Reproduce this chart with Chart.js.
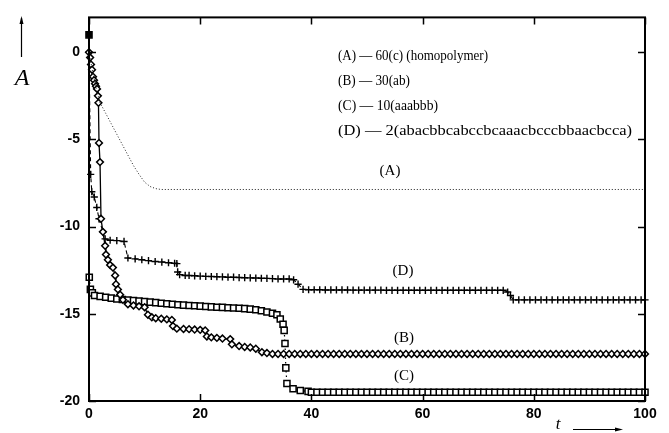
<!DOCTYPE html>
<html>
<head>
<meta charset="utf-8">
<script src="https://cdn.jsdelivr.net/npm/chart.js@4.4.1/dist/chart.umd.min.js"></script>
<style>
  html, body { margin: 0; padding: 0; background: #fff; }
</style>
</head>
<body>
<canvas id="chartContainer" width="669" height="433"></canvas>
<script>
// axis ticks
var xTicks = [0, 20, 40, 60, 80, 100];
var yTicks = [-20, -15, -10, -5, 0];

// (A) homopolymer, dotted line, no markers
var tA = [0, 0.7, 1.4, 2, 3, 4, 5, 6, 7, 8, 9, 10, 11, 12, 13, 100];
var yA = [0, -1.2, -2.2, -2.9, -3.5, -4.1, -4.7, -5.3, -5.9, -6.5, -7.0, -7.45, -7.7, -7.82, -7.87, -7.87];

// (B) 30(ab), diamonds
var tB = [0, 0.2, 0.36, 0.54, 0.72, 0.9, 1.08, 1.26, 1.44, 1.6, 1.7, 1.8, 1.98, 2.16, 2.5, 2.9, 3.05, 3.4, 3.8, 4.3,
  4.7, 4.85, 5.2, 5.6, 6.1, 7, 8, 9, 10, 10.6, 11.3, 12, 13, 14, 14.9, 15.1, 15.8, 17, 18, 19,
  20, 20.9, 21.2, 22, 23, 24, 25.4, 25.7, 27, 28, 29, 30, 31.1, 32, 33, 34, 35, 36, 37, 38,
  39, 40, 41, 42, 43, 44, 45, 46, 47, 48, 49, 50, 51, 52, 53, 54, 55, 56, 57, 58,
  59, 60, 61, 62, 63, 64, 65, 66, 67, 68, 69, 70, 71, 72, 73, 74, 75, 76, 77, 78,
  79, 80, 81, 82, 83, 84, 85, 86, 87, 88, 89, 90, 91, 92, 93, 94, 95, 96, 97, 98,
  99, 100];
var yB = [0, -0.3, -0.7, -1.0, -1.4, -1.6, -1.8, -1.95, -2.1, -2.5, -2.9, -5.2, -6.3, -9.55, -10.3, -11.1, -11.6, -11.9, -12.2, -12.35,
  -12.8, -13.3, -13.6, -13.9, -14.2, -14.45, -14.52, -14.57, -14.62, -15.05, -15.2, -15.25, -15.28, -15.32, -15.35, -15.7, -15.85, -15.87, -15.88, -15.9,
  -15.92, -15.95, -16.3, -16.35, -16.38, -16.42, -16.45, -16.75, -16.85, -16.9, -16.93, -17.0, -17.2, -17.25, -17.3, -17.3, -17.3, -17.3, -17.3, -17.3,
  -17.3, -17.3, -17.3, -17.3, -17.3, -17.3, -17.3, -17.3, -17.3, -17.3, -17.3, -17.3, -17.3, -17.3, -17.3, -17.3, -17.3, -17.3, -17.3, -17.3,
  -17.3, -17.3, -17.3, -17.3, -17.3, -17.3, -17.3, -17.3, -17.3, -17.3, -17.3, -17.3, -17.3, -17.3, -17.3, -17.3, -17.3, -17.3, -17.3, -17.3,
  -17.3, -17.3, -17.3, -17.3, -17.3, -17.3, -17.3, -17.3, -17.3, -17.3, -17.3, -17.3, -17.3, -17.3, -17.3, -17.3, -17.3, -17.3, -17.3, -17.3,
  -17.3, -17.3];

// (C) 10(aaabbb), squares
var tC = [0, 0.05, 0.25, 0.6, 1, 2, 3, 4, 5, 6, 7, 8, 9, 10, 11, 12, 13, 14, 15, 16,
  17, 18, 19, 20, 21, 22, 23, 24, 25, 26, 27, 28, 29, 30, 31, 32, 33, 33.8, 34.4, 34.9,
  35.1, 35.25, 35.4, 35.6, 36.7, 38, 39.4, 40, 41, 42, 43, 44, 45, 46, 47, 48, 49, 50, 51, 52,
  53, 54, 55, 56, 57, 58, 59, 60, 61, 62, 63, 64, 65, 66, 67, 68, 69, 70, 71, 72,
  73, 74, 75, 76, 77, 78, 79, 80, 81, 82, 83, 84, 85, 86, 87, 88, 89, 90, 91, 92,
  93, 94, 95, 96, 97, 98, 99, 100];
var yC = [1.0, -12.9, -13.6, -13.8, -13.95, -14.0, -14.05, -14.1, -14.15, -14.18, -14.21, -14.24, -14.27, -14.3, -14.33, -14.36, -14.39, -14.42, -14.45, -14.48,
  -14.5, -14.52, -14.54, -14.56, -14.58, -14.6, -14.62, -14.63, -14.65, -14.67, -14.68, -14.7, -14.73, -14.77, -14.82, -14.9, -14.97, -15.05, -15.3, -15.6,
  -15.95, -16.7, -18.1, -19.0, -19.3, -19.4, -19.45, -19.5, -19.5, -19.5, -19.5, -19.5, -19.5, -19.5, -19.5, -19.5, -19.5, -19.5, -19.5, -19.5,
  -19.5, -19.5, -19.5, -19.5, -19.5, -19.5, -19.5, -19.5, -19.5, -19.5, -19.5, -19.5, -19.5, -19.5, -19.5, -19.5, -19.5, -19.5, -19.5, -19.5,
  -19.5, -19.5, -19.5, -19.5, -19.5, -19.5, -19.5, -19.5, -19.5, -19.5, -19.5, -19.5, -19.5, -19.5, -19.5, -19.5, -19.5, -19.5, -19.5, -19.5,
  -19.5, -19.5, -19.5, -19.5, -19.5, -19.5, -19.5, -19.5];

// (D) 2(abacbb...), pluses
var tD = [0, 0.3, 0.5, 0.95, 1.4, 1.8, 2.5, 2.9, 3.8, 5.0, 6.3, 7.0, 8.3, 9.5, 10.7, 11.9, 13.1, 14.3, 15.4, 15.8,
  15.95, 16.3, 17.3, 18, 19, 20, 21, 22, 23, 24, 25, 26, 27, 28, 29, 30, 31, 32, 33, 34,
  35, 36, 36.8, 37.6, 38.5, 39.5, 40.5, 41.5, 42.5, 43.5, 44.5, 45.5, 46.5, 47.5, 48.5, 49.5, 50.5, 51.5, 52.5, 53.5,
  54.5, 55.5, 56.5, 57.5, 58.5, 59.5, 60.5, 61.5, 62.5, 63.5, 64.5, 65.5, 66.5, 67.5, 68.5, 69.5, 70.5, 71.5, 72.5, 73.5,
  74.5, 75.3, 75.8, 76.3, 77.3, 78.3, 79.3, 80.3, 81.3, 82.3, 83.3, 84.3, 85.3, 86.3, 87.3, 88.3, 89.3, 90.3, 91.3, 92.3,
  93.3, 94.3, 95.3, 96.3, 97.3, 98.3, 99.3, 100];
var yD = [0, -7.0, -8.0, -8.3, -8.9, -9.55, -10.3, -10.7, -10.78, -10.8, -10.85, -11.8, -11.85, -11.9, -11.95, -12.0, -12.03, -12.07, -12.1, -12.12,
  -12.6, -12.75, -12.8, -12.8, -12.82, -12.84, -12.85, -12.86, -12.87, -12.88, -12.9, -12.9, -12.92, -12.93, -12.94, -12.95, -12.96, -12.97, -12.98, -13.0,
  -13.0, -13.0, -13.05, -13.3, -13.6, -13.62, -13.62, -13.62, -13.63, -13.63, -13.63, -13.63, -13.63, -13.64, -13.64, -13.64, -13.64, -13.64, -13.64, -13.65,
  -13.65, -13.65, -13.65, -13.65, -13.65, -13.65, -13.65, -13.65, -13.65, -13.65, -13.65, -13.65, -13.65, -13.65, -13.65, -13.65, -13.65, -13.65, -13.65, -13.65,
  -13.65, -13.75, -13.95, -14.2, -14.2, -14.2, -14.2, -14.2, -14.2, -14.2, -14.2, -14.2, -14.2, -14.2, -14.2, -14.2, -14.2, -14.2, -14.2, -14.2,
  -14.2, -14.2, -14.2, -14.2, -14.2, -14.2, -14.2, -14.2];

var keyLines = [
  '(A) \u2014 60(c) (homopolymer)',
  '(B) \u2014 30(ab)',
  '(C) \u2014 10(aaabbb)',
  '(D) \u2014 2(abacbbcabccbcaaacbcccbbaacbcca)'
];
var curveTags = ['(A)', '(B)', '(C)', '(D)'];

function pairs(t, y) {
  return t.map(function (x, i) { return { x: x, y: y[i] }; });
}

// frame, inward ticks, labels and arrows drawn on top of the chart
var decor = {
  id: 'decor',
  afterDraw: function (chart) {
    var ctx = chart.ctx, a = chart.chartArea;
    var xs = chart.scales.x, ys = chart.scales.y;
    ctx.save();
    ctx.strokeStyle = '#000';
    ctx.lineWidth = 2;
    ctx.strokeRect(a.left, a.top, a.right - a.left, a.bottom - a.top);
    ctx.lineWidth = 1.5;
    ctx.beginPath();
    yTicks.forEach(function (v) {
      var p = Math.round(ys.getPixelForValue(v)) + 0.5;
      ctx.moveTo(a.left, p); ctx.lineTo(a.left + 7, p);
      ctx.moveTo(a.right, p); ctx.lineTo(a.right - 7, p);
    });
    xTicks.forEach(function (v) {
      var p = Math.round(xs.getPixelForValue(v)) + 0.5;
      ctx.moveTo(p, a.bottom); ctx.lineTo(p, a.bottom - 7);
      ctx.moveTo(p, a.top); ctx.lineTo(p, a.top + 7);
    });
    ctx.stroke();

    // key text, fitted to the widths seen in the picture
    ctx.fillStyle = '#000';
    ctx.textBaseline = 'middle';
    ctx.textAlign = 'left';
    ctx.font = '15px "Liberation Serif"';
    var keyY = [56, 81, 106, 131];
    var keyW = [150, 72, 100, 294];
    keyLines.forEach(function (s, i) {
      var w = ctx.measureText(s).width;
      ctx.save();
      ctx.translate(338, keyY[i]);
      ctx.scale(keyW[i] / w, 1);
      ctx.fillText(s, 0, 0);
      ctx.restore();
    });

    // curve tags
    ctx.font = '15px "Liberation Serif"';
    ctx.textAlign = 'center';
    var tagPos = [[390, 171], [404, 338], [404, 376], [403, 271]];
    curveTags.forEach(function (s, i) {
      ctx.fillText(s, tagPos[i][0], tagPos[i][1]);
    });

    // axis names with arrows
    ctx.font = 'italic 24px "Liberation Serif"';
    ctx.fillText('A', 22, 79);
    ctx.font = 'italic 17px "Liberation Serif"';
    ctx.fillText('t', 558, 425);
    ctx.lineWidth = 1.2;
    ctx.beginPath();
    ctx.moveTo(21.5, 57); ctx.lineTo(21.5, 18);
    ctx.moveTo(573, 429.5); ctx.lineTo(621, 429.5);
    ctx.stroke();
    ctx.beginPath();
    ctx.moveTo(21.5, 16); ctx.lineTo(19.5, 24); ctx.lineTo(23.5, 24); ctx.closePath();
    ctx.moveTo(623, 429.5); ctx.lineTo(615, 427.5); ctx.lineTo(615, 431.5); ctx.closePath();
    ctx.fill();
    ctx.restore();
  }
};

var ctx = document.getElementById('chartContainer').getContext('2d');

var chart = new Chart(ctx, {
  type: 'line',
  data: {
    datasets: [{
      label: 'A',
      data: pairs(tA, yA),
      borderColor: '#222',
      borderWidth: 1,
      borderDash: [1, 2],
      pointRadius: 0,
      clip: false
    }, {
      label: 'B',
      data: pairs(tB, yB),
      borderColor: '#000',
      borderWidth: 1.3,
      pointStyle: 'rectRot',
      pointRadius: 3.4,
      pointBorderWidth: 1.5,
      pointBorderColor: '#000',
      pointBackgroundColor: '#fff',
      clip: false
    }, {
      label: 'C',
      data: pairs(tC, yC),
      borderColor: '#000',
      borderWidth: 1.2,
      borderDash: [1.5, 3],
      pointStyle: 'rect',
      pointRadius: 4.3,
      pointBorderWidth: 1.5,
      pointBorderColor: '#000',
      pointBackgroundColor: function (c) { return c.dataIndex === 0 ? '#000' : '#fff'; },
      clip: false
    }, {
      label: 'D',
      data: pairs(tD, yD),
      borderColor: '#000',
      borderWidth: 1.1,
      borderDash: [4, 3],
      pointStyle: 'cross',
      pointRadius: 3.6,
      pointBorderWidth: 1.4,
      pointBorderColor: '#000',
      clip: false
    }]
  },
  options: {
    responsive: false,
    animation: false,
    layout: { padding: { top: 10, right: 24, left: 0, bottom: 0 } },
    elements: { line: { tension: 0, fill: false } },
    plugins: { legend: { display: false }, tooltip: { enabled: false } },
    scales: {
      x: {
        type: 'linear',
        min: 0,
        max: 100,
        afterBuildTicks: function (s) { s.ticks = xTicks.map(function (v) { return { value: v }; }); },
        afterFit: function (s) { s.height = 32; },
        grid: { display: false, drawTicks: false },
        border: { display: false },
        ticks: { color: '#000', padding: 5, maxRotation: 0, font: { family: 'Liberation Sans', size: 14, weight: 'bold' } }
      },
      y: {
        type: 'linear',
        min: -20,
        max: 2,
        afterBuildTicks: function (s) { s.ticks = yTicks.map(function (v) { return { value: v }; }); },
        afterFit: function (s) { s.width = 89; },
        grid: { display: false, drawTicks: false },
        border: { display: false },
        ticks: { color: '#000', padding: 9, font: { family: 'Liberation Sans', size: 14, weight: 'bold' } }
      }
    }
  },
  plugins: [decor]
});
</script>
</body>
</html>
